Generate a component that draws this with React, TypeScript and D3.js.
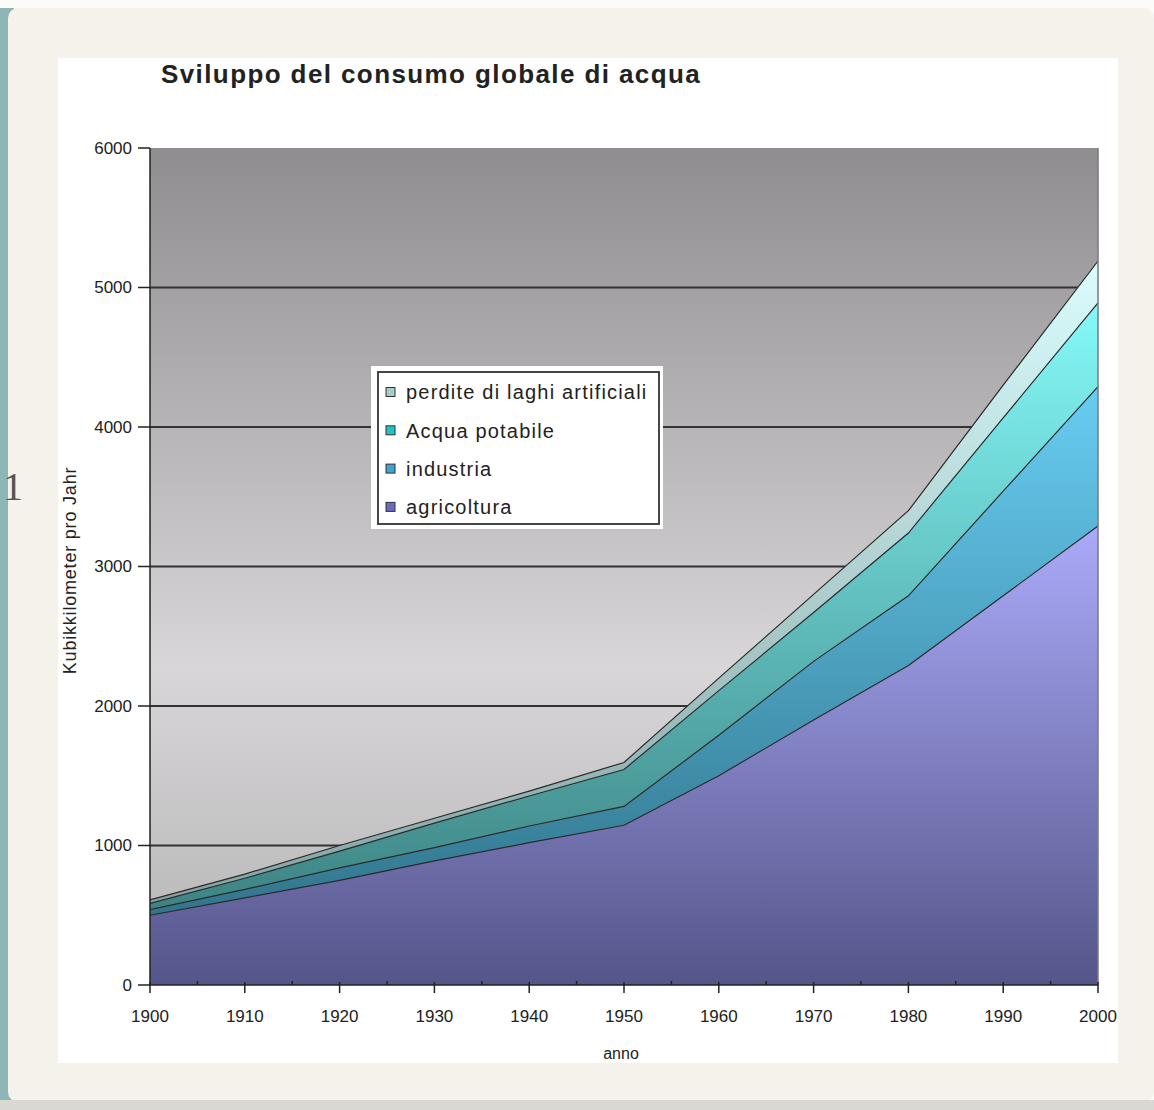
import React from "react";
import * as d3 from "d3";

const years = [1900, 1910, 1920, 1930, 1940, 1950, 1960, 1970, 1980, 1990, 2000];
const agricoltura = [500, 625, 750, 890, 1020, 1145, 1500, 1900, 2290, 2790, 3290];
const industria = [40, 60, 90, 95, 120, 135, 290, 420, 500, 750, 1000];
const acquaPotabile = [45, 80, 120, 175, 215, 265, 320, 350, 450, 525, 600];
const perdite = [25, 30, 40, 35, 35, 50, 90, 130, 160, 235, 300];

const yTicks = [0, 1000, 2000, 3000, 4000, 5000, 6000];
const xTicks = [1900, 1910, 1920, 1930, 1940, 1950, 1960, 1970, 1980, 1990, 2000];
const xMinorTicks = [1905, 1915, 1925, 1935, 1945, 1955, 1965, 1975, 1985, 1995];

const seriesKeys = ["agricoltura", "industria", "potabile", "perdite"];
const legendLabels = ["perdite di laghi artificiali", "Acqua potabile", "industria", "agricoltura"];
const legendKeys = ["perdite", "potabile", "industria", "agricoltura"];

const gradColors: Record<string, [string, string]> = {
  agricoltura: ["#abaaf9", "#55558a"],
  industria: ["#68cdf2", "#2a6a80"],
  potabile: ["#84f9f8", "#357575"],
  perdite: ["#dafcfc", "#7a9898"],
};
const swatchColors: Record<string, string> = {
  perdite: "#a6cccc",
  potabile: "#22c2c2",
  industria: "#3fa3d2",
  agricoltura: "#6a6ac2",
};

export default function App() {
  const W = 1154, H = 1110;
  const x = d3.scaleLinear().domain([1900, 2000]).range([150, 1098]);
  const y = d3.scaleLinear().domain([0, 6000]).range([985, 148]);

  const rows = years.map((yr, i) => ({
    year: yr,
    agricoltura: agricoltura[i],
    industria: industria[i],
    potabile: acquaPotabile[i],
    perdite: perdite[i],
  }));
  const stacked = d3.stack<any>().keys(seriesKeys)(rows);
  const area = d3
    .area<any>()
    .x((d: any) => x(d.data.year))
    .y0((d: any) => y(d[0]))
    .y1((d: any) => y(d[1]));
  const topLine = d3
    .line<any>()
    .x((d: any) => x(d.data.year))
    .y((d: any) => y(d[1]));

  const font = "'Liberation Sans', Arial, sans-serif";

  return (
    <svg width={W} height={H} style={{ position: "absolute", left: 0, top: 0 }} xmlns="http://www.w3.org/2000/svg">
      <defs>
        <linearGradient id="bgGrad" x1="0" y1={y(6000)} x2="0" y2={y(0)} gradientUnits="userSpaceOnUse">
          <stop offset="0" stopColor="#8f8d8f" />
          <stop offset="0.62" stopColor="#d8d6d8" />
          <stop offset="1" stopColor="#b4b3b4" />
        </linearGradient>
        {stacked.map((s: any) => {
          const top = d3.max(s, (d: any) => d[1] as number) as number;
          const [c1, c2] = gradColors[s.key];
          return (
            <linearGradient key={s.key} id={"g-" + s.key} x1="0" y1={y(top)} x2="0" y2={y(0)} gradientUnits="userSpaceOnUse">
              <stop offset="0" stopColor={c1} />
              <stop offset="1" stopColor={c2} />
            </linearGradient>
          );
        })}
      </defs>

      {/* outer page */}
      <rect x={0} y={0} width={W} height={H} fill="#fbfbfa" />
      <rect x={0} y={8} width={14} height={H - 8} fill="#8fb6b6" />
      <rect x={8} y={8} width={W - 8} height={H - 16} rx={10} fill="#f4f2ea" />
      <rect x={0} y={H - 10} width={W} height={10} fill="#d9d8d2" />
      <text x={3} y={500} fontFamily="'Liberation Serif', serif" fontSize={40} fill="#555">1</text>

      {/* chart area */}
      <rect x={58} y={58} width={1060} height={1005} fill="#ffffff" />

      {/* title */}
      <text x={161} y={83} fontFamily={font} fontSize={26} fontWeight="bold" fill="#222" letterSpacing={1.4}>
        Sviluppo del consumo globale di acqua
      </text>

      {/* plot background */}
      <rect x={x(1900)} y={y(6000)} width={x(2000) - x(1900)} height={y(0) - y(6000)} fill="url(#bgGrad)" />

      {/* gridlines */}
      {yTicks.filter((v) => v > 0 && v < 6000).map((v) => (
        <line key={v} x1={x(1900)} x2={x(2000)} y1={y(v)} y2={y(v)} stroke="#333" strokeWidth={2} />
      ))}

      {/* areas */}
      {stacked.map((s: any) => (
        <path key={s.key} d={area(s) || ""} fill={`url(#g-${s.key})`} />
      ))}
      {stacked.map((s: any) => (
        <path key={"l" + s.key} d={topLine(s) || ""} fill="none" stroke="#2a2a2a" strokeWidth={1.2} />
      ))}

      {/* plot right border */}
      <line x1={x(2000)} x2={x(2000)} y1={y(6000)} y2={y(0)} stroke="#7a7a7a" strokeWidth={1.5} />

      {/* y axis */}
      <line x1={x(1900)} x2={x(1900)} y1={y(6000)} y2={y(0)} stroke="#222" strokeWidth={1.5} />
      {yTicks.map((v) => (
        <g key={v}>
          <line x1={x(1900) - 12} x2={x(1900)} y1={y(v)} y2={y(v)} stroke="#222" strokeWidth={1.5} />
          <text x={132} y={y(v)} dy="0.35em" textAnchor="end" fontFamily={font} fontSize={17} fill="#222">
            {v}
          </text>
        </g>
      ))}

      {/* x axis */}
      <line x1={x(1900)} x2={x(2000)} y1={y(0)} y2={y(0)} stroke="#222" strokeWidth={1.5} />
      {xTicks.map((t) => (
        <g key={t}>
          <line x1={x(t)} x2={x(t)} y1={y(0) - 3} y2={y(0) + 8} stroke="#222" strokeWidth={1.5} />
          <text x={x(t)} y={1022} textAnchor="middle" fontFamily={font} fontSize={17} fill="#222">
            {t}
          </text>
        </g>
      ))}
      {xMinorTicks.map((t) => (
        <line key={t} x1={x(t)} x2={x(t)} y1={y(0) - 4} y2={y(0)} stroke="#222" strokeWidth={1.5} />
      ))}

      {/* axis titles */}
      <text x={621} y={1059} textAnchor="middle" fontFamily={font} fontSize={16} fill="#222">anno</text>
      <text
        transform={`translate(76, ${(y(0) + y(6000)) / 2 + 4}) rotate(-90)`}
        textAnchor="middle"
        fontFamily={font}
        fontSize={18}
        letterSpacing={0.8}
        fill="#222"
      >
        Kubikkilometer pro Jahr
      </text>

      {/* legend */}
      <rect x={371} y={366} width={292} height={163} fill="#ffffff" />
      <rect x={378} y={372} width={281} height={152} fill="#ffffff" stroke="#333" strokeWidth={1.8} />
      {legendKeys.map((k, i) => {
        const cy = 392 + i * 38.3;
        return (
          <g key={k}>
            <rect x={386} y={cy - 4.5} width={9} height={9} fill={swatchColors[k]} stroke="#333" strokeWidth={1} />
            <text x={406} y={cy} dy="0.36em" fontFamily={font} fontSize={20} fill="#222" letterSpacing={1.2}>
              {legendLabels[i]}
            </text>
          </g>
        );
      })}
    </svg>
  );
}
